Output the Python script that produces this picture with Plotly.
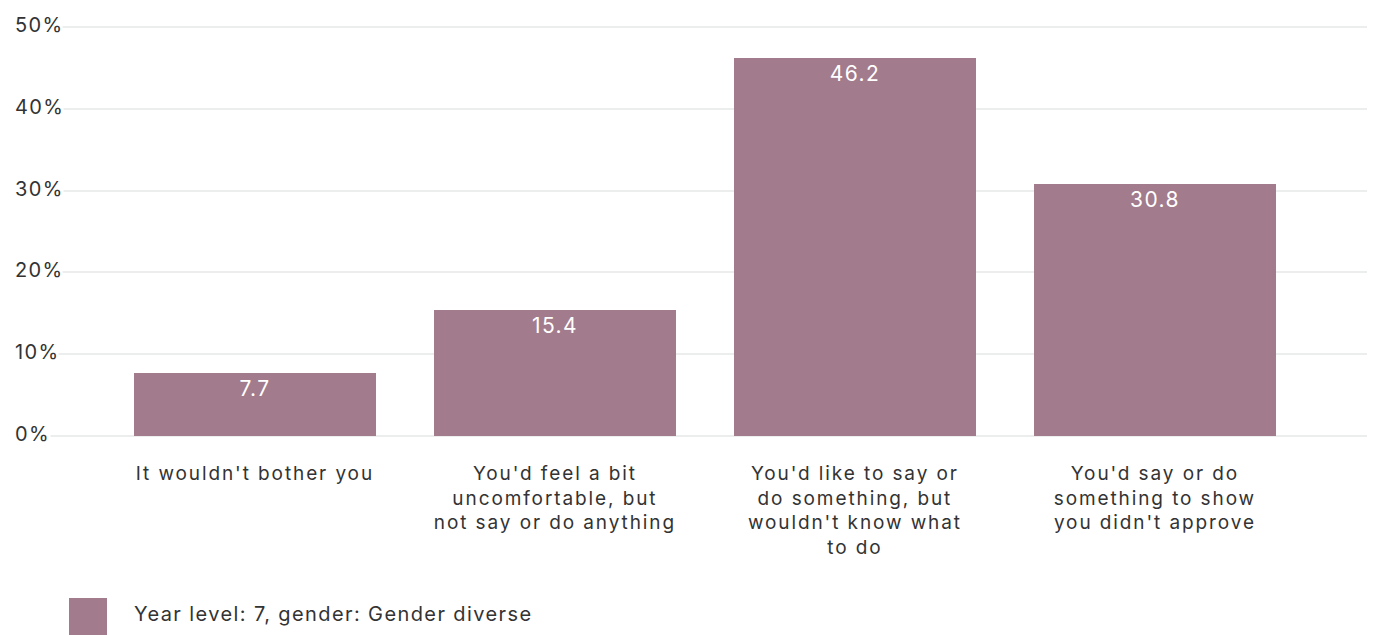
import plotly.graph_objects as go

# Response categories and share of students (%)
categories = [
    "It wouldn't bother you",
    "You'd feel a bit<br>uncomfortable, but<br>not say or do anything",
    "You'd like to say or<br>do something, but<br>wouldn't know what<br>to do",
    "You'd say or do<br>something to show<br>you didn't approve",
]
values = [7.7, 15.4, 46.2, 30.8]
series_name = "Year level: 7, gender: Gender diverse"
y_ticks = [0, 10, 20, 30, 40, 50]
y_tick_labels = ["0%", "10%", "20%", "30%", "40%", "50%"]

BAR_COLOR = "#a27b8c"
TEXT_COLOR = "#333333"
GRID_COLOR = "#eceeed"
FONT = "Inter, 'Open Sans', sans-serif"
FS = 20

W, H = 1375, 635
M_L, M_R, M_T, M_B = 50, 8, 25, 197
plot_w = W - M_L - M_R
plot_h = H - M_T - M_B

fig = go.Figure()
fig.add_trace(go.Bar(
    x=list(range(len(categories))),
    y=values,
    width=0.807,
    marker=dict(color=BAR_COLOR, line=dict(width=0)),
    text=[f"{v:.1f}" for v in values],
    textposition="inside",
    insidetextanchor="end",
    textfont=dict(color="white", size=21, family=FONT),
    constraintext="none",
    name=series_name,
    showlegend=False,
    hoverinfo="skip",
))

# y tick labels, left aligned with a white backing over the grid line
annotations = []
for v, lab in zip(y_ticks, y_tick_labels):
    annotations.append(dict(
        x=(11 - M_L) / plot_w, xref="paper", xanchor="left", align="left",
        y=v, yref="y", yanchor="middle", yshift=2,
        text=lab, showarrow=False,
        font=dict(size=FS, color=TEXT_COLOR, family=FONT),
        bgcolor="white", borderpad=3,
    ))

# Legend entry: large swatch plus label
annotations.append(dict(
    x=(132 - M_L) / plot_w, xref="paper", xanchor="left", align="left",
    y=-(614 - (H - M_B)) / plot_h, yref="paper", yanchor="middle",
    text=series_name, showarrow=False,
    font=dict(size=FS, color=TEXT_COLOR, family=FONT),
))
shapes = [dict(
    type="rect", xref="paper", yref="paper",
    x0=(69 - M_L) / plot_w, x1=(107 - M_L) / plot_w,
    y0=-(635 - (H - M_B)) / plot_h, y1=-(598 - (H - M_B)) / plot_h,
    fillcolor=BAR_COLOR, line=dict(width=0), layer="above",
)]

fig.update_layout(
    width=W, height=H,
    margin=dict(l=M_L, r=M_R, t=M_T, b=M_B, pad=0),
    paper_bgcolor="white", plot_bgcolor="white",
    font=dict(family=FONT, color=TEXT_COLOR, size=FS),
    bargap=0,
    annotations=annotations,
    shapes=shapes,
    xaxis=dict(
        tickmode="array",
        tickvals=list(range(len(categories))),
        ticktext=categories,
        range=[-0.683, 3.707],
        showgrid=False, zeroline=False, showline=False, ticks="",
        ticklabelstandoff=22,
        tickfont=dict(size=19, color=TEXT_COLOR, family=FONT),
        fixedrange=True,
    ),
    yaxis=dict(
        range=[-0.3, 50.3],
        tickvals=y_ticks,
        showticklabels=False,
        showgrid=True, gridcolor=GRID_COLOR, gridwidth=2,
        zeroline=False, showline=False, ticks="",
        fixedrange=True,
    ),
)

# Open up the letter spacing of the chart text
spacing_js = """
document.querySelectorAll('.main-svg text').forEach(function (t) {
    t.style.letterSpacing = '1.4px';
});
document.querySelectorAll('.main-svg .xtick text').forEach(function (t) {
    t.style.letterSpacing = '1.9px';
});
"""

fig.write_html("out.html", config={"displayModeBar": False}, post_script=spacing_js)
